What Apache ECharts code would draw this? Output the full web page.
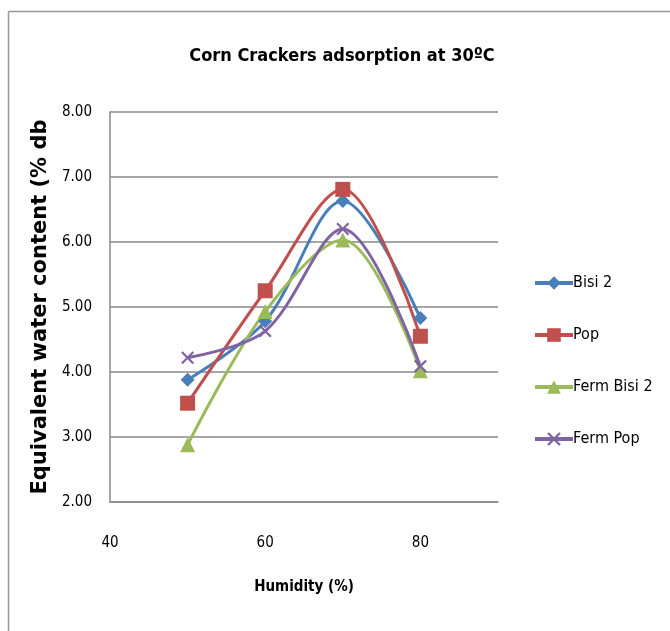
<!DOCTYPE html>
<html>
<head>
<meta charset="utf-8">
<script src="https://cdn.jsdelivr.net/npm/echarts@6/dist/echarts.min.js"></script>
<style>
  html, body { margin: 0; padding: 0; background: #fff; }
  #mChart { width: 670px; height: 631px; }
</style>
</head>
<body>
<div id="mChart"></div>
<script>
var humidity = [50, 60, 70, 80];
var bisi2 = [3.88, 4.78, 6.63, 4.83];
var pop = [3.52, 5.25, 6.81, 4.55];
var fermBisi2 = [2.88, 4.93, 6.03, 4.02];
var fermPop = [4.22, 4.63, 6.20, 4.09];
var xTicks = [40, 60, 80];

var narrow = "'Liberation Sans Narrow', 'DejaVu Sans Condensed', sans-serif";
var xMark = 'path://M0,1.2L1.2,0L5,3.8L8.8,0L10,1.2L6.2,5L10,8.8L8.8,10L5,6.2L1.2,10L0,8.8L3.8,5Z';

function pairs(ys) {
  var out = [];
  for (var i = 0; i < humidity.length; i++) {
    out.push([humidity[i], ys[i]]);
  }
  return out;
}

function mkSeries(name, ys, color, symbol, size) {
  return {
    name: name,
    type: 'line',
    data: pairs(ys),
    smooth: 0.33,
    symbol: symbol,
    symbolSize: size,
    lineStyle: { color: color, width: 3 },
    itemStyle: { color: color },
    emphasis: { disabled: true }
  };
}

var myChart = echarts.init(document.getElementById('mChart'));
myChart.setOption({
  animation: false,
  backgroundColor: '#fff',
  title: {
    text: 'Corn Crackers adsorption at 30ºC',
    left: 337,
    top: 42,
    textAlign: 'center',
    textStyle: { fontFamily: narrow, fontWeight: 'bold', fontSize: 18, color: '#000' }
  },
  graphic: [
    { type: 'line', shape: { x1: 8.5, y1: 11.5, x2: 670, y2: 11.5 }, style: { stroke: '#999', lineWidth: 1.5 } },
    { type: 'line', shape: { x1: 8.5, y1: 11.5, x2: 8.5, y2: 631 }, style: { stroke: '#999', lineWidth: 1.5 } }
  ],
  legend: {
    orient: 'vertical',
    left: 533,
    top: 275,
    padding: 0,
    itemGap: 36,
    itemWidth: 38,
    itemHeight: 17,
    lineStyle: { width: 4 },
    textStyle: { fontFamily: narrow, fontSize: 16, color: '#000', padding: [0, 0, 0, -5] },
    data: ['Bisi 2', 'Pop', 'Ferm Bisi 2', 'Ferm Pop']
  },
  grid: { left: 110, top: 112, right: 172, bottom: 129 },
  xAxis: {
    type: 'value',
    min: 40,
    max: 90,
    interval: 20,
    name: 'Humidity (%)',
    nameLocation: 'middle',
    nameGap: 78,
    nameTextStyle: { fontFamily: narrow, fontWeight: 'bold', fontSize: 15, color: '#000' },
    axisLine: { lineStyle: { color: '#888', width: 1.5 } },
    axisTick: { show: false },
    splitLine: { show: false },
    axisLabel: {
      margin: 34,
      fontFamily: narrow, fontSize: 15, color: '#000',
      formatter: function (v) { return xTicks.indexOf(v) >= 0 ? String(v) : ''; }
    }
  },
  yAxis: {
    type: 'value',
    min: 2,
    max: 8,
    interval: 1,
    name: 'Equivalent water content (% db',
    nameLocation: 'middle',
    nameRotate: 90,
    nameGap: 55,
    nameTextStyle: { fontFamily: 'DejaVu Sans', fontWeight: 'bold', fontSize: 21, color: '#000' },
    axisLine: { show: true, lineStyle: { color: '#888', width: 1.5 } },
    axisTick: { show: false },
    splitLine: { lineStyle: { color: '#888', width: 1.5 } },
    axisLabel: {
      margin: 18,
      fontFamily: narrow, fontSize: 15, color: '#000',
      formatter: function (v) { return v.toFixed(2); }
    }
  },
  series: [
    mkSeries('Bisi 2', bisi2, '#4A7EBB', 'diamond', 14),
    mkSeries('Pop', pop, '#C0504D', 'rect', 15),
    mkSeries('Ferm Bisi 2', fermBisi2, '#9BBB59', 'triangle', 15),
    mkSeries('Ferm Pop', fermPop, '#8064A2', xMark, 13)
  ]
});
</script>
</body>
</html>
